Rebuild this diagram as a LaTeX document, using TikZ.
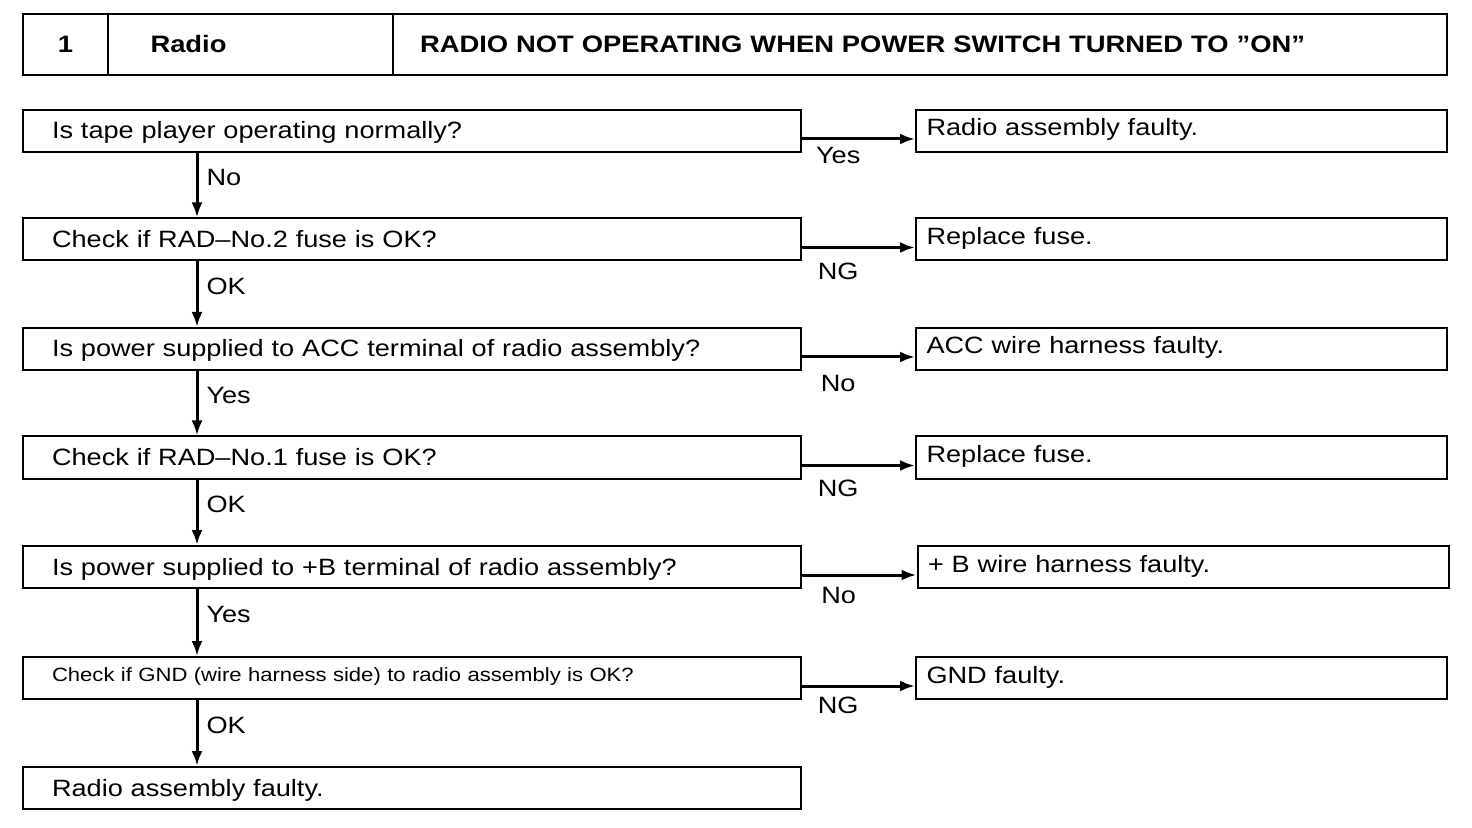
\documentclass[tikz,border=0pt]{standalone}
\usepackage{fontspec}
\setmainfont{Liberation Sans}[FakeStretch=1.15]
\usetikzlibrary{arrows.meta}
\begin{document}
\begin{tikzpicture}[x=0.5pt,y=-0.5pt,
  every node/.style={font=\fontsize{11.8pt}{14pt}\selectfont},
  hdr/.style={draw,line width=1pt,minimum height=30.5pt,inner sep=0pt,text height=8.5pt,text depth=0pt,font=\fontsize{11.9pt}{14pt}\selectfont\bfseries},
  lbox/.style={draw,line width=1pt,minimum width=389pt,minimum height=21pt,inner xsep=14.5pt,inner ysep=0pt,text width=360pt,align=left,text height=10pt,text depth=2pt},
  rbox/.style={draw,line width=1pt,minimum width=265.5pt,minimum height=21pt,inner xsep=5pt,inner ysep=0pt,text width=255pt,align=left,text height=8pt,text depth=3pt},
  arr/.style={line width=1.5pt,-{Latex[length=7.5pt,width=5.5pt]}},
  lbl/.style={inner sep=1pt}]
\useasboundingbox (0,0) rectangle (1472,828);
% header
\node[hdr,minimum width=42.5pt] (h1) at (65.5,44.5) {1};
\node[hdr,minimum width=142.5pt,text width=120pt,align=left,inner xsep=0pt] (h2) at (250.5,44.5) {\hspace*{10pt}Radio};
\node[hdr,minimum width=527pt,text width=500pt,align=left] (h3) at (920,44.5) {RADIO NOT OPERATING WHEN POWER SWITCH TURNED TO ”ON”};
% left boxes
\node[lbox] (q1) at (412,131) {Is tape player operating normally?};
\node[lbox] (q2) at (412,239.5) {Check if RAD–No.2 fuse is OK?};
\node[lbox] (q3) at (412,349) {Is power supplied to ACC terminal of radio assembly?};
\node[lbox] (q4) at (412,457.5) {Check if RAD–No.1 fuse is OK?};
\node[lbox] (q5) at (412,567) {Is power supplied to +B terminal of radio assembly?};
\node[lbox,font=\fontsize{9.6pt}{11pt}\selectfont,text height=7pt,text depth=4pt] (q6) at (412,678) {Check if GND (wire harness side) to radio assembly is OK?};
\node[lbox] (q7) at (412,788) {Radio assembly faulty.};
% right boxes
\node[rbox] (r1) at (1181.5,131) {Radio assembly faulty.};
\node[rbox] (r2) at (1181.5,239.5) {Replace fuse.};
\node[rbox] (r3) at (1181.5,349) {ACC wire harness faulty.};
\node[rbox] (r4) at (1181.5,457.5) {Replace fuse.};
\node[rbox] (r5) at (1183,567) {+ B wire harness faulty.};
\node[rbox] (r6) at (1181.5,678) {GND faulty.};
% vertical arrows
\foreach \a/\b/\t in {q1/q2/No,q2/q3/OK,q3/q4/Yes,q4/q5/OK,q5/q6/Yes,q6/q7/OK}{
  \draw[arr] ([xshift=87.5pt]\a.south west) -- ([xshift=87.5pt]\b.north west)
    node[lbl,pos=0.38,right=3pt] {\t};
}
% horizontal arrows
\foreach \a/\b/\t/\d in {q1/r1/Yes/2.5pt,q2/r2/NG/6pt,q3/r3/No/7.5pt,q4/r4/NG/5.5pt,q5/r5/No/4.5pt,q6/r6/NG/4pt}{
  \draw[arr] ([yshift=-4pt]\a.east) -- ([yshift=-4pt]\b.west)
    node[lbl,pos=0.32,below=\d] {\t};
}
\end{tikzpicture}
\end{document}
